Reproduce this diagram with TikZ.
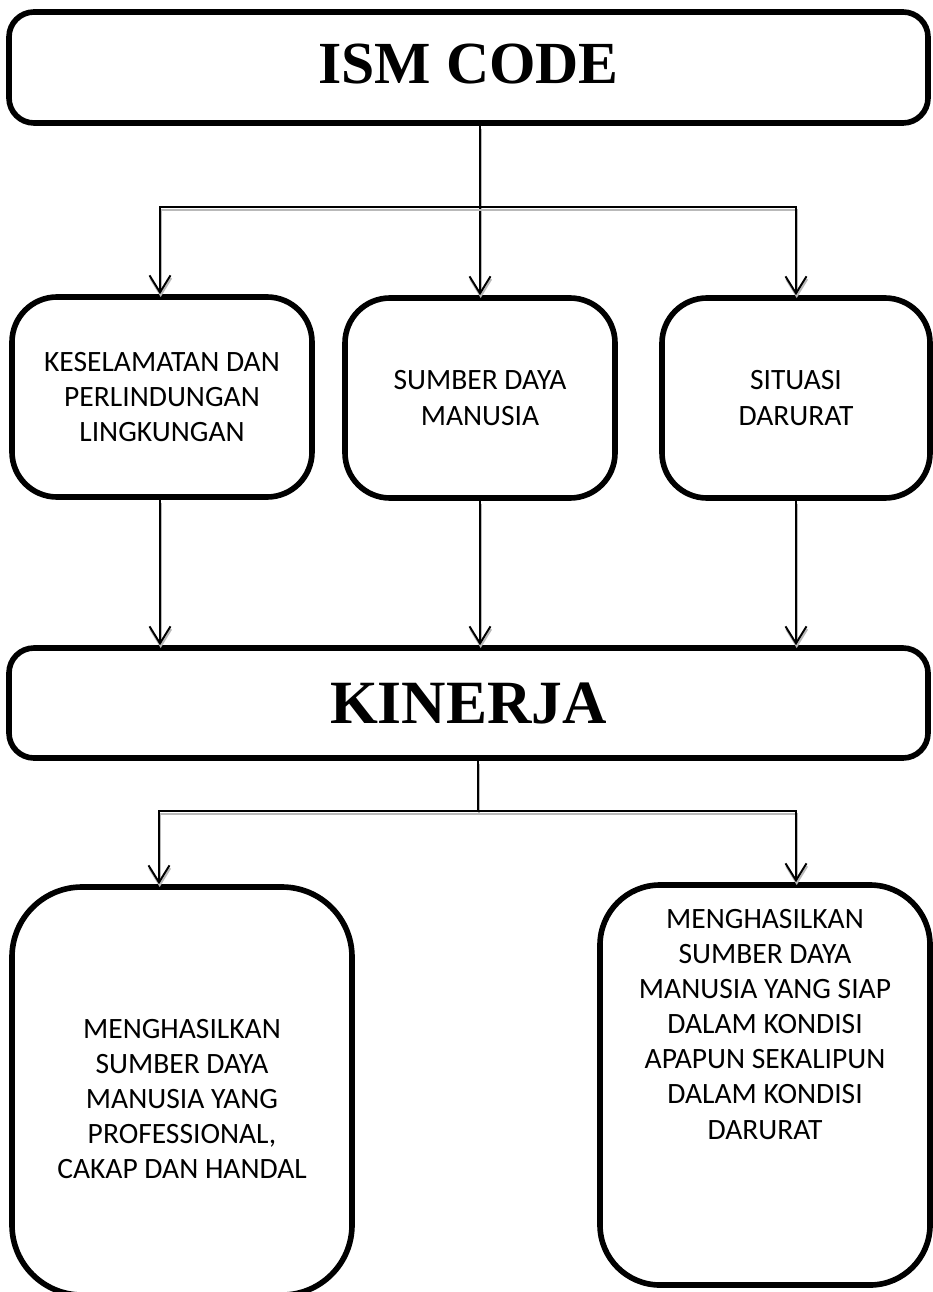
\documentclass[tikz,border=0pt]{standalone}
\usepackage{fontspec}
\setmainfont{Carlito}
\newfontfamily\titlefont{Liberation Serif}
\usetikzlibrary{arrows.meta,calc}

\begin{document}
\begin{tikzpicture}[>={Straight Barb[length=3.4mm,width=4.2mm]},
  bigbox/.style={draw, line width=3.2pt, rounded corners=0.5cm, inner sep=0pt},
  boxA/.style={draw, line width=3.2pt, rounded corners=0.9cm, inner sep=0pt, align=flush center,
    font=\fontsize{16.8}{20}\selectfont},
  boxB/.style={draw, line width=3.2pt, rounded corners=1.4cm, inner sep=0pt, align=flush center,
    font=\fontsize{16.8}{20}\selectfont},
  conn/.style={line width=1.1pt, preaction={draw=gray!55, line width=1.1pt, transform canvas={xshift=0.4pt, yshift=-1.6pt}}}]
  \useasboundingbox (0,0) rectangle (18.66,-25.84);
  % Nodes
  \node[bigbox, minimum width=18.38cm, minimum height=2.22cm](ism) at (9.37,-1.35)
    {\raisebox{0.14cm}{\titlefont\bfseries\fontsize{34}{40}\selectfont ISM CODE}};
  \node[boxA, minimum width=6cm, minimum height=4cm, text width=5.6cm](k1) at (3.24,-7.94)
    {KESELAMATAN DAN\\PERLINDUNGAN\\LINGKUNGAN};
  \node[boxA, minimum width=5.4cm, minimum height=4cm, text width=5cm](k2) at (9.6,-7.96)
    {SUMBER DAYA\\MANUSIA};
  \node[boxA, minimum width=5.36cm, minimum height=4cm, text width=5cm](k3) at (15.92,-7.96)
    {SITUASI\\DARURAT};
  \node[bigbox, minimum width=18.38cm, minimum height=2.2cm](kin) at (9.37,-14.06)
    {\titlefont\bfseries\fontsize{35}{40}\selectfont KINERJA};
  \node[boxB, minimum width=6.8cm, minimum height=8.16cm, text width=6.2cm](h1) at (3.64,-21.82)
    {\rule{0pt}{0.7cm}MENGHASILKAN\\SUMBER DAYA\\MANUSIA YANG\\PROFESSIONAL,\\CAKAP DAN HANDAL};
  \node[boxB, minimum width=6.6cm, minimum height=8cm, text width=6cm, rounded corners=1.2cm](h2) at (15.3,-21.7)
    {MENGHASILKAN\\SUMBER DAYA\\MANUSIA YANG SIAP\\DALAM KONDISI\\APAPUN SEKALIPUN\\DALAM KONDISI\\DARURAT\par\rule{0pt}{2.4cm}};
  % coordinates
  \coordinate (br1) at ($(k2.north |- ism.south)!0.48!(k2.north)$);
  \coordinate (br2) at ($(kin.south -| k2.north) + (-0.04,-1)$);
  % Edges
  \draw[conn,->] (k2.north |- ism.south) -- (k2.north);
  \draw[conn,->] (br1) -| ($(k1.north) + (-0.04,0)$);
  \draw[conn,->] (br1) -| (k3.north);
  \draw[conn,->] ($(k1.south) + (-0.04,0)$) -- ($(k1.south |- kin.north) + (-0.04,0)$);
  \draw[conn,->] (k2.south) -- (k2.south |- kin.north);
  \draw[conn,->] (k3.south) -- (k3.south |- kin.north);
  \draw[conn] (kin.south -| br2) -- (br2);
  \draw[conn,->] (br2) -| ($(k1.south |- h1.north) + (-0.06,0)$);
  \draw[conn,->] (br2) -| (k3.south |- h2.north);
\end{tikzpicture}
\end{document}
